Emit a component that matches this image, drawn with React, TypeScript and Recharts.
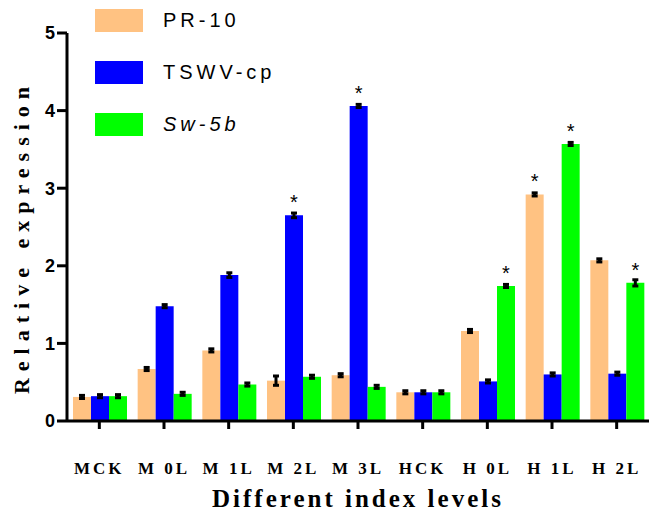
import { BarChart, Bar, XAxis, YAxis, ErrorBar, LabelList, Label } from "recharts";

const categories = ["MCK", "M 0L", "M 1L", "M 2L", "M 3L", "HCK", "H 0L", "H 1L", "H 2L"];
const pr10 = [0.31, 0.67, 0.91, 0.52, 0.59, 0.37, 1.16, 2.92, 2.07];
const tswv = [0.32, 1.48, 1.88, 2.65, 4.06, 0.37, 0.51, 0.6, 0.61];
const sw5b = [0.32, 0.35, 0.47, 0.57, 0.44, 0.37, 1.74, 3.57, 1.78];
const pr10Err = [0.02, 0.02, 0.02, 0.06, 0.02, 0.02, 0.02, 0.02, 0.02];
const tswvErr = [0.02, 0.02, 0.03, 0.03, 0.02, 0.02, 0.02, 0.02, 0.02];
const sw5bErr = [0.02, 0.02, 0.02, 0.02, 0.02, 0.02, 0.02, 0.02, 0.04];
const pr10Sig = [false, false, false, false, false, false, false, true, false];
const tswvSig = [false, false, false, true, true, false, false, false, false];
const sw5bSig = [false, false, false, false, false, false, true, true, true];
const yTicks = [0, 1, 2, 3, 4, 5];

const data = categories.map((name, i) => ({
  name,
  pr10: pr10[i],
  tswv: tswv[i],
  sw5b: sw5b[i],
  pr10Err: pr10Err[i],
  tswvErr: tswvErr[i],
  sw5bErr: sw5bErr[i],
  pr10Star: pr10Sig[i] ? "*" : "",
  tswvStar: tswvSig[i] ? "*" : "",
  sw5bStar: sw5bSig[i] ? "*" : "",
}));

const legendItems = [
  { label: "PR-10", color: "#FFC282", italic: false },
  { label: "TSWV-cp", color: "#0000FF", italic: false },
  { label: "Sw-5b", color: "#00FF00", italic: true },
];

const serif = "'Liberation Serif', 'Times New Roman', serif";

const Star = (props: any) => {
  const { x, y, width, value } = props;
  if (!value) return null;
  return (
    <text x={x + width / 2} y={y - 6} textAnchor="middle" fontSize={20} fontFamily="Arial" fill="#000">
      {value}
    </text>
  );
};

const XTick = (props: any) => {
  const { x, y, payload } = props;
  return (
    <text x={x} y={y + 43} textAnchor="middle" fontSize={17} fontWeight="bold" fontFamily={serif} letterSpacing={3} fill="#000">
      {payload.value}
    </text>
  );
};

const YTitle = (props: any) => {
  const cy = props.viewBox.y + props.viewBox.height / 2 + 10;
  return (
    <text x={21} y={cy} transform={`rotate(-90 21 ${cy})`} textAnchor="middle" dominantBaseline="central" fontSize={22} fontWeight="bold" fontFamily={serif} letterSpacing={7} fill="#000">
      Relative expression
    </text>
  );
};

const LegendBox = () => (
  <div style={{ position: "absolute", left: 95, top: -6, fontFamily: "'Liberation Sans', Arial, sans-serif" }}>
    {legendItems.map((it) => (
      <div key={it.label} style={{ display: "flex", alignItems: "center", height: 52 }}>
        <div style={{ width: 48, height: 23, background: it.color }} />
        <span style={{ marginLeft: 20, fontSize: 20, letterSpacing: 4, fontStyle: it.italic ? "italic" : "normal", color: "#000" }}>
          {it.label}
        </span>
      </div>
    ))}
  </div>
);

export default function App() {
  return (
    <div style={{ position: "absolute", left: 0, top: 0, width: 658, height: 515, background: "#fff" }}>
      <BarChart width={658} height={515} data={data} margin={{ top: 33, right: 9, bottom: 0, left: 0 }} barCategoryGap={6} barGap={0}>
        <XAxis
          dataKey="name"
          height={94}
          axisLine={{ stroke: "#000", strokeWidth: 3 }}
          tickLine={{ stroke: "#000", strokeWidth: 3 }}
          tickSize={8}
          tick={<XTick />}
          interval={0}
        >
          <Label
            value="Different index levels"
            position="insideBottom"
            offset={8}
            style={{ fontSize: 25, fontWeight: "bold", fontFamily: serif, letterSpacing: 3, fill: "#000" }}
          />
        </XAxis>
        <YAxis
          width={67}
          domain={[0, 5]}
          ticks={yTicks}
          axisLine={{ stroke: "#000", strokeWidth: 3 }}
          tickLine={{ stroke: "#000", strokeWidth: 3 }}
          tickSize={10}
          tick={{ fontSize: 18, fontWeight: "bold", fontFamily: "'Liberation Sans', Arial, sans-serif", fill: "#000" }}
        >
          <Label content={<YTitle />} />
        </YAxis>
        <Bar dataKey="pr10" fill="#FFC282" isAnimationActive={false}>
          <ErrorBar dataKey="pr10Err" width={3} strokeWidth={3} stroke="#000" direction="y" />
          <LabelList dataKey="pr10Star" content={<Star />} />
        </Bar>
        <Bar dataKey="tswv" fill="#0000FF" isAnimationActive={false}>
          <ErrorBar dataKey="tswvErr" width={3} strokeWidth={3} stroke="#000" direction="y" />
          <LabelList dataKey="tswvStar" content={<Star />} />
        </Bar>
        <Bar dataKey="sw5b" fill="#00FF00" isAnimationActive={false}>
          <ErrorBar dataKey="sw5bErr" width={3} strokeWidth={3} stroke="#000" direction="y" />
          <LabelList dataKey="sw5bStar" content={<Star />} />
        </Bar>
      </BarChart>
      <LegendBox />
    </div>
  );
}
